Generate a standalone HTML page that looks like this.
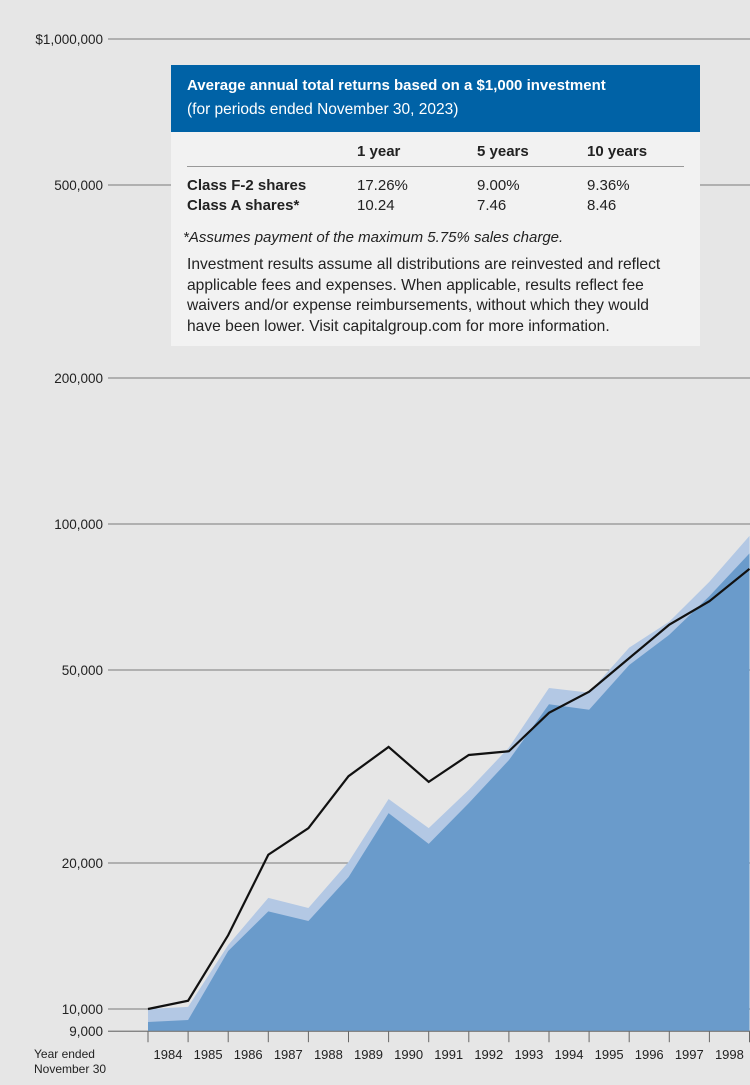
<!DOCTYPE html>
<html><head><meta charset="utf-8"><style>
body{margin:0;background:#e6e6e6;font-family:"Liberation Sans",sans-serif;}
#wrap{position:relative;width:750px;height:1085px;overflow:hidden;background:#e6e6e6;}
svg{position:absolute;left:0;top:0;}
#box{position:absolute;left:171px;top:65px;width:529px;height:281px;background:#f2f2f2;}
#hdr{background:#0062a6;color:#fff;height:67px;padding:12px 16px 0 16px;box-sizing:border-box;}
#hdr .t{font-weight:bold;font-size:15px;}
#hdr .s{font-size:15.5px;margin-top:7px;}
table{border-collapse:collapse;margin:11px 16px 0 16px;width:497px;font-size:15px;color:#222;}
th{font-weight:bold;text-align:left;padding:0 0 6px 0;border-bottom:1px solid #999;}
td{padding:0;line-height:20px;}
td.l{font-weight:bold;}
.note{font-size:15px;color:#222;margin:13px 12px 0 12px;font-style:italic;}
.desc{font-size:15.6px;color:#222;margin:9px 16px 0 16px;line-height:20.5px;}
</style></head><body>
<div id="wrap">
<svg id="chart" width="750" height="1085"></svg>
<div id="box">
 <div id="hdr"><div class="t">Average annual total returns based on a $1,000 investment</div><div class="s">(for periods ended November 30, 2023)</div></div>
 <table>
  <tr><th style="width:170px"></th><th style="width:120px">1 year</th><th style="width:110px">5 years</th><th>10 years</th></tr>
  <tr><td class="l" style="padding-top:9px">Class F-2 shares</td><td style="padding-top:9px">17.26%</td><td style="padding-top:9px">9.00%</td><td style="padding-top:9px">9.36%</td></tr>
  <tr><td class="l">Class A shares*</td><td>10.24</td><td>7.46</td><td>8.46</td></tr>
 </table>
 <div class="note">*Assumes payment of the maximum 5.75% sales charge.</div>
 <div class="desc">Investment results assume all distributions are reinvested and reflect applicable fees and expenses. When applicable, results reflect fee waivers and/or expense reimbursements, without which they would have been lower. Visit capitalgroup.com for more information.</div>
</div>
</div>
<script>
const years=[1984,1985,1986,1987,1988,1989,1990,1991,1992,1993,1994,1995,1996,1997,1998,1999];
const yearLabels=["1984","1985","1986","1987","1988","1989","1990","1991","1992","1993","1994","1995","1996","1997","1998"];
const lineValues=[10000,10400,14200,20800,23600,30200,34700,29400,33400,34000,40800,45100,52900,62000,69300,80800];
const classAValues=[9400,9490,13170,15900,15190,18700,25350,21900,26570,32600,42500,41400,51200,59100,71000,87000];
const classF2Values=[10000,10100,13550,16950,16150,20100,27100,23600,28300,34600,45900,44900,55600,62900,76000,94500];
const yTicks=[1000000,500000,200000,100000,50000,20000,10000,9000];
const yTickLabels=["$1,000,000","500,000","200,000","100,000","50,000","20,000","10,000","9,000"];
const NS="http://www.w3.org/2000/svg";
const svg=document.getElementById('chart');
const yS=v=>1009-485*Math.log10(v/10000);
const xS=i=>148+i*40.1;
function mk(t,a){const e=document.createElementNS(NS,t);for(const k in a)e.setAttribute(k,a[k]);svg.appendChild(e);return e;}
yTicks.forEach((v,i)=>{
 const l=mk('line',{x1:108,x2:750,y1:yS(v),y2:yS(v),stroke:'#7a7a7a','stroke-width':1});
 
 
 const t=mk('text',{x:103,y:yS(v)+5,'text-anchor':'end','font-size':13.5,fill:'#222','font-family':'Liberation Sans, sans-serif'});
 t.textContent=yTickLabels[i];
 
 
});
function area(vals,fill,name){
 let d='M'+xS(0)+','+yS(9000);
 vals.forEach((v,i)=>d+=' L'+xS(i)+','+yS(v));
 d+=' L'+xS(vals.length-1)+','+yS(9000)+'Z';
 const p=mk('path',{d:d,fill:fill});
 
 
}
area(classF2Values,'#b3c8e4','class-f2-area');
area(classAValues,'#6a9bcb','class-a-area');
let d='';lineValues.forEach((v,i)=>d+=(i?' L':'M')+xS(i)+','+yS(v));
const ln=mk('path',{d:d,fill:'none',stroke:'#111','stroke-width':2.2});


const ax=mk('line',{x1:108,x2:750,y1:yS(9000),y2:yS(9000),stroke:'#777','stroke-width':1});


years.forEach((y,i)=>{
 const tk=mk('line',{x1:xS(i),x2:xS(i),y1:yS(9000),y2:yS(9000)+11,stroke:'#666','stroke-width':1});
 
 
});
yearLabels.forEach((s,i)=>{
 const t=mk('text',{x:xS(i)+20,y:1059,'text-anchor':'middle','font-size':13,fill:'#222','font-family':'Liberation Sans, sans-serif'});
 t.textContent=s;
 
 
});
['Year ended','November 30'].forEach((s,i)=>{
 const t=mk('text',{x:34,y:1058+i*15,'font-size':12,fill:'#222','font-family':'Liberation Sans, sans-serif'});
 t.textContent=s;
 
 
});
</script>
</body></html>
